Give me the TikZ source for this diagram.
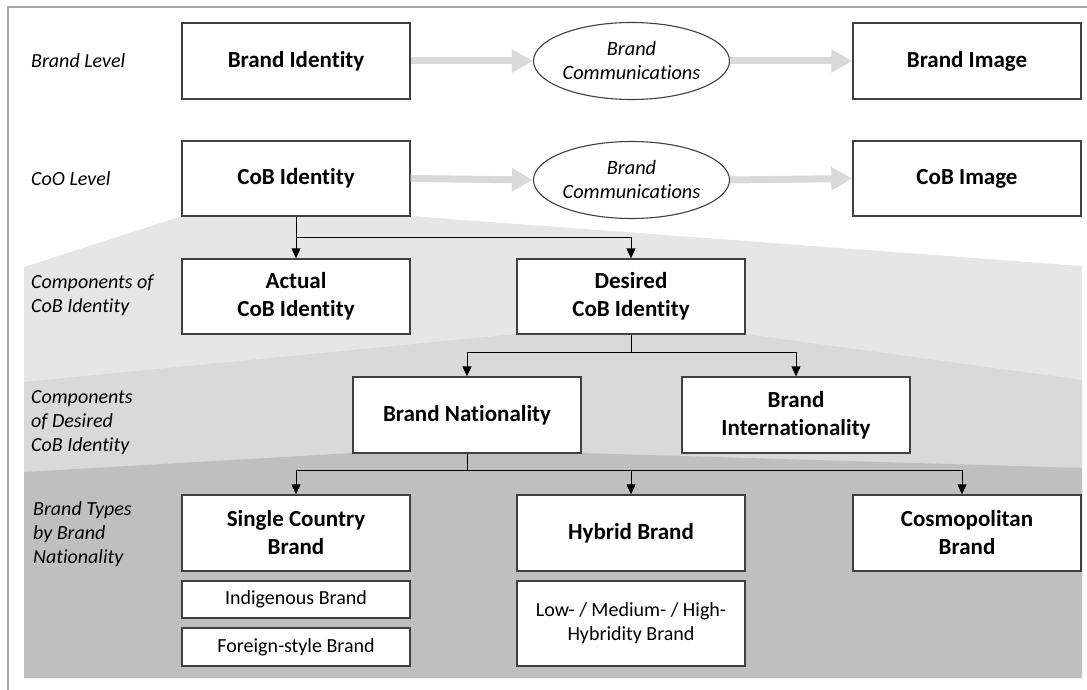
\documentclass[tikz,border=0pt]{standalone}
\usepackage{fontspec}
\setmainfont[Ligatures=NoCommon]{Carlito}
\usetikzlibrary{shapes.geometric,arrows.meta}
\definecolor{frame}{HTML}{A6A6A6}
\definecolor{lay1}{HTML}{E6E6E6}
\definecolor{lay2}{HTML}{D9D9D9}
\definecolor{lay3}{HTML}{BFBFBF}
\definecolor{edge}{HTML}{404040}
\definecolor{garrow}{HTML}{D9D9D9}
\tikzset{
  box/.style={draw=edge, line width=1.3pt, fill=white, minimum width=228pt, minimum height=76pt, inner sep=2pt, align=center, font=\fontsize{23}{28}\selectfont\bfseries},
  smallbox/.style={draw=edge, line width=1.3pt, fill=white, minimum width=228pt, inner sep=2pt, align=center, font=\fontsize{20}{24}\selectfont},
  oval/.style={ellipse, draw=edge, line width=1.1pt, fill=white, minimum width=196pt, minimum height=77pt, inner sep=0pt, align=center, font=\fontsize{20.3}{24}\selectfont\itshape},
  lvl/.style={anchor=west, align=left, inner sep=0pt, font=\fontsize{20}{24}\selectfont\itshape},
  arr/.style={draw=black, line width=0.9pt, -{Triangle[width=9pt,length=10pt]}},
  conn/.style={draw=black, line width=0.9pt},
  garr/.style={draw=garrow, line width=7pt, -{Triangle[width=22pt,length=21pt]}, shorten >=0pt}
}
\begin{document}
\begin{tikzpicture}[x=1pt,y=-1pt]
\useasboundingbox (0,0) rectangle (1087,690);
% background layers
\fill[lay1] (24,267) -- (182,216) -- (410,216) -- (1082,266) -- (1082,678) -- (24,678) -- cycle;
\fill[lay2] (24,382) -- (517,334) -- (745,334) -- (1082,380) -- (1082,678) -- (24,678) -- cycle;
\fill[lay3] (24,472) -- (353,453) -- (581,453) -- (1082,468) -- (1082,678) -- (24,678) -- cycle;
% frame
\draw[frame, line width=2pt] (8,690) -- (8,7) -- (1087,7);

% level labels
\node[lvl] (l1) at (31,61) {Brand Level};
\node[lvl] (l2) at (31,179) {CoO Level};
\node[lvl] (l3) at (31,295) {Components of\\CoB Identity};
\node[lvl] (l4) at (31,423) {Components\\of Desired\\CoB Identity};
\node[lvl] (l5) at (33,534) {Brand Types\\by Brand\\Nationality};

% row 1
\node[box] (bid) at (296,61) {Brand Identity};
\node[oval] (bc1) at (631.5,61) {Brand\\Communications};
\node[box] (bim) at (967,61) {Brand Image};
% row 2
\node[box, minimum height=75pt] (cid) at (296,178.5) {CoB Identity};
\node[oval] (bc2) at (631.5,180) {Brand\\Communications};
\node[box, minimum height=75pt] (cim) at (967,178.5) {CoB Image};
% grey arrows
\draw[garr] (bid.east) -- (bc1.west);
\draw[garr] (bc1.east) -- (bim.west);
\draw[garr] (cid.east) -- (bc2.west);
\draw[garr] (bc2.east) -- (cim.west);

% row 3
\node[box, minimum height=75pt] (act) at (296,296.5) {Actual\\CoB Identity};
\node[box, minimum height=75pt] (des) at (631,296.5) {Desired\\CoB Identity};
% row 4
\node[box] (nat) at (467,415) {Brand Nationality};
\node[box] (intl) at (796,415) {Brand\\Internationality};
% row 5
\node[box] (sing) at (296,533) {Single Country\\Brand};
\node[box] (hyb) at (631,533) {Hybrid Brand};
\node[box] (cosm) at (967,533) {Cosmopolitan\\Brand};
% sub boxes
\node[smallbox, minimum height=37pt] (indi) at (296,599.5) {Indigenous Brand};
\node[smallbox, minimum height=38pt] (fore) at (296,647) {Foreign-style Brand};
\node[smallbox, minimum height=85pt] (low) at (631,623.5) {Low- / Medium- / High-\\Hybridity Brand};

% connectors
\coordinate (j1) at (296,237);
\coordinate (j2) at (631,352);
\coordinate (j3) at (467,470);
\draw[arr] (cid.south) -- (act.north);
\draw[arr] (j1) -| (des.north);
\draw[conn] (des.south) -- (j2);
\draw[arr] (j2) -| (nat.north);
\draw[arr] (j2) -| (intl.north);
\draw[conn] (nat.south) -- (j3);
\draw[arr] (j3) -| (sing.north);
\draw[arr] (j3) -| (hyb.north);
\draw[arr] (j3) -| ([xshift=-5pt]cosm.north);
\end{tikzpicture}
\end{document}
